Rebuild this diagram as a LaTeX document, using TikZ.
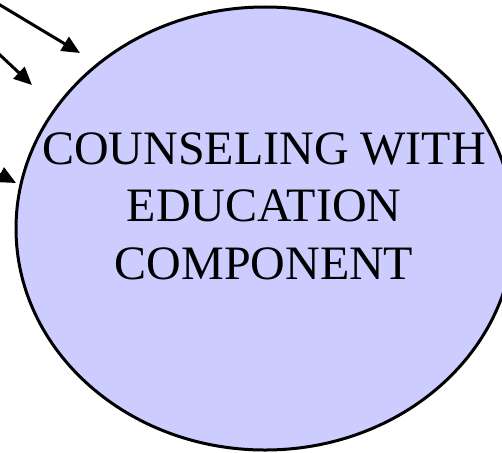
\documentclass[tikz,border=0pt]{standalone}
\usepackage{fontspec}
\setmainfont{Liberation Serif}
\usetikzlibrary{arrows.meta,shapes.geometric}
\definecolor{lavender}{HTML}{CCCCFF}
\begin{document}
\begin{tikzpicture}[x=1pt,y=1pt,
  bubble/.style={ellipse, draw=black, line width=3pt, fill=lavender,
    minimum width=498pt, minimum height=443pt, inner sep=0pt},
  feed/.style={line width=3pt, -{Triangle[length=18pt,width=16pt]}},
  title/.style={font=\fontsize{48}{57.5}\selectfont, align=center}]
\useasboundingbox (0,0) rectangle (502,-452);
\clip (0,0) rectangle (502,-452);
% main bubble
\node[bubble] (core) at (265,-228.5) {};
\node[title] (label) at (264,-206) {COUNSELING WITH\\EDUCATION\\COMPONENT};
% incoming arrows from the left edge
\coordinate (s1) at (-10,1);
\coordinate (s2) at (-10,-45.6);
\coordinate (s3) at (-20,-164);
\coordinate (t1) at (80,-53);
\coordinate (t2) at (32,-85);
\coordinate (t3) at (16,-183);
\draw[feed] (s1) -- (t1);
\draw[feed] (s2) -- (t2);
\draw[feed] (s3) -- (t3);
\end{tikzpicture}
\end{document}
